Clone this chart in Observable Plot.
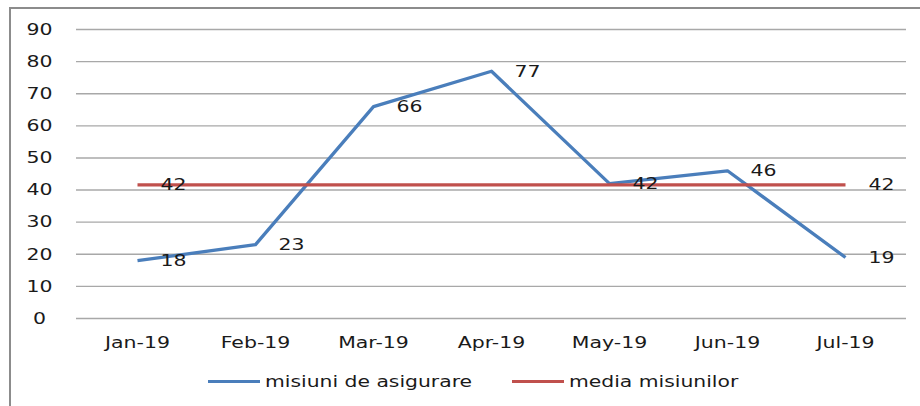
<!DOCTYPE html>
<html><head><meta charset="utf-8">
<script src="https://cdn.jsdelivr.net/npm/d3@7"></script>
<script src="https://cdn.jsdelivr.net/npm/@observablehq/plot@0.6"></script>
<style>
html,body{margin:0;padding:0;width:920px;height:406px;overflow:hidden;background:#fff;}
#frame{position:absolute;left:9px;top:7px;width:960px;height:440px;border:2px solid #8c8c8c;box-sizing:border-box;}
#chart{position:absolute;left:0;top:0;}
.leg{position:absolute;top:371px;height:20px;display:flex;align-items:center;font-family:"DejaVu Sans";font-size:16px;color:#1a1a1a;white-space:nowrap;}
.sw{position:absolute;top:380px;width:52px;height:3px;}
.lt{display:inline-block;transform:scaleX(1.27);transform-origin:left center;}
</style>
</head><body>
<div id="frame"></div>
<div id="chart"></div>
<div id="legend"></div>
<script>
const months = ["Jan-19","Feb-19","Mar-19","Apr-19","May-19","Jun-19","Jul-19"];
const misiuni = [18,23,66,77,42,46,19];
const media = [41.6,41.6,41.6,41.6,41.6,41.6,41.6];
const yTicks = [0,10,20,30,40,50,60,70,80,90];
const seriesNames = ["misiuni de asigurare","media misiunilor"];
const seriesColors = ["#4a7ebb","#c0504d"];

const rows = months.map((m,i)=>({month:m, misiuni:misiuni[i], media:media[i], i}));
const mediaLabelRows = rows.filter(d => d.i === 0 || d.i === rows.length-1);

const chart = Plot.plot({
  width:920, height:362,
  marginLeft:76, marginRight:14, marginTop:29, marginBottom:44,
  x:{type:"point", domain:months, padding:0.5, label:null},
  y:{domain:[0,90], label:null},
  style:{fontFamily:"DejaVu Sans", fontSize:"16.5px", color:"#1a1a1a", background:"transparent", overflow:"visible"},
  marks:[
    Plot.ruleY(yTicks, {stroke:"#a8a8a8", strokeWidth:1.4}),
    Plot.axisY({ticks:yTicks, tickSize:0, tickPadding:37, textAnchor:"middle", label:null, fontSize:16.5}),
    Plot.axisX({tickSize:0, tickPadding:18, label:null, fontSize:16.5}),
    Plot.line(rows, {x:"month", y:"misiuni", stroke:seriesColors[0], strokeWidth:3.3, strokeLinecap:"butt"}),
    Plot.line(rows, {x:"month", y:"media", stroke:seriesColors[1], strokeWidth:3.3, strokeLinecap:"butt"}),
    Plot.text(rows, {x:"month", y:"misiuni", text:d=>String(d.misiuni), dx:23, textAnchor:"start", fill:"#1a1a1a", fontSize:16.5}),
    Plot.text(mediaLabelRows, {x:"month", y:"media", text:d=>String(Math.round(d.media)), dx:23, textAnchor:"start", fill:"#1a1a1a", fontSize:16.5})
  ]
});
document.getElementById("chart").appendChild(chart);

// widen glyphs (reference text is horizontally stretched)
chart.querySelectorAll("text").forEach(t => {
  const w = t.getComputedTextLength();
  if (w > 0) {
    t.setAttribute("textLength", (w * 1.24).toFixed(1));
    t.setAttribute("lengthAdjust", "spacingAndGlyphs");
  }
});

// legend (HTML, below the plot)
const legend = document.getElementById("legend");
const swatchLeft = [208, 512];
seriesNames.forEach((name,k)=>{
  const sw = document.createElement("div");
  sw.className="sw"; sw.style.left=swatchLeft[k]+"px"; sw.style.background=seriesColors[k];
  const t = document.createElement("div");
  t.className="leg"; t.style.left=(swatchLeft[k]+57)+"px";
  const s = document.createElement("span");
  s.className="lt"; s.textContent=name;
  t.appendChild(s);
  legend.appendChild(sw); legend.appendChild(t);
});
</script>
</body></html>
